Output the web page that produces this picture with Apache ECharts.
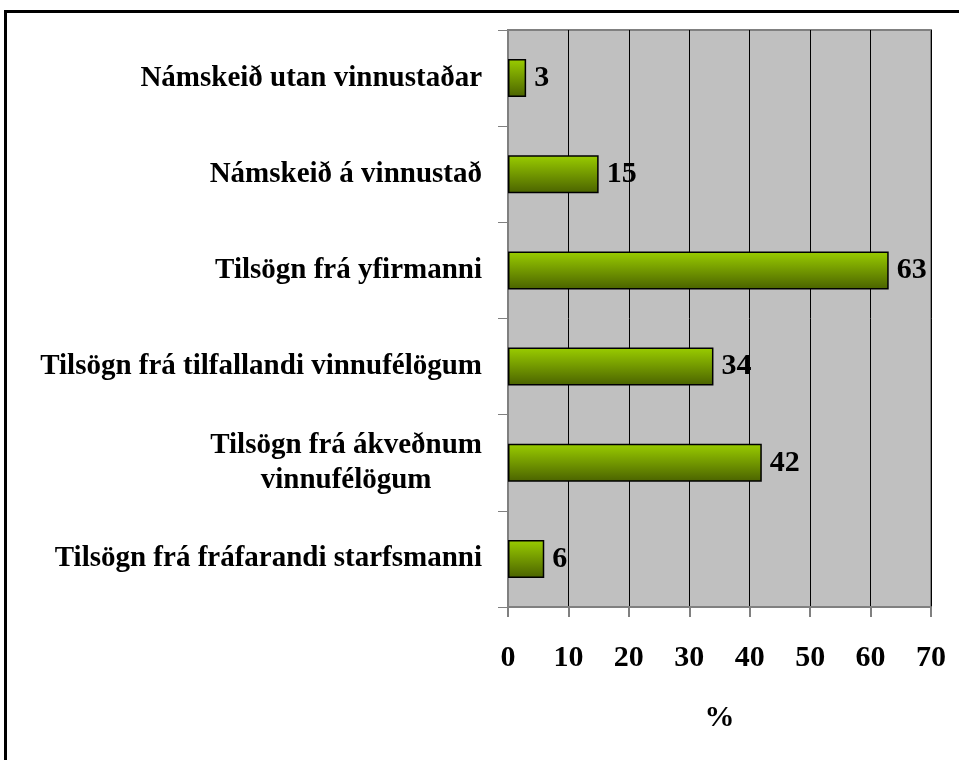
<!DOCTYPE html>
<html>
<head>
<meta charset="utf-8">
<script src="https://cdn.jsdelivr.net/npm/echarts@6/dist/echarts.min.js"></script>
<style>
  html, body { margin: 0; padding: 0; background: #fff; }
  #container { width: 959px; height: 760px; }
</style>
</head>
<body>
<div id="container"></div>
<script>
var categories = [
  'Námskeið utan vinnustaðar',
  'Námskeið á vinnustað',
  'Tilsögn frá yfirmanni',
  'Tilsögn frá tilfallandi vinnufélögum',
  'Tilsögn frá ákveðnum\nvinnufélögum',
  'Tilsögn frá fráfarandi starfsmanni'
];
var values = [3, 15, 63, 34, 42, 6];
var xTicks = [0, 10, 20, 30, 40, 50, 60, 70];

var font = '"Liberation Serif", "Times New Roman", serif';
var myChart = echarts.init(document.getElementById('container'));

var option = {
  backgroundColor: '#ffffff',
  textStyle: { fontFamily: font },
  graphic: [{
    type: 'rect',
    shape: { x: 5.5, y: 11.5, width: 1000, height: 800 },
    style: { fill: 'none', stroke: '#000', lineWidth: 3 },
    silent: true
  }],
  grid: {
    left: 508,
    right: 28,
    top: 30,
    bottom: 153,
    show: true,
    backgroundColor: '#c0c0c0',
    borderColor: '#808080',
    borderWidth: 2
  },
  xAxis: {
    type: 'value',
    min: xTicks[0],
    max: xTicks[xTicks.length - 1],
    interval: 10,
    name: '%',
    nameLocation: 'middle',
    nameGap: 96,
    nameTextStyle: { fontFamily: font, fontWeight: 'bold', fontSize: 30, color: '#000' },
    axisLine: { show: true, lineStyle: { color: '#808080', width: 2 } },
    axisTick: { show: true, length: 10, lineStyle: { color: '#808080', width: 2 } },
    axisLabel: { margin: 36, fontFamily: font, fontWeight: 'bold', fontSize: 30, color: '#000' },
    splitLine: { show: true, lineStyle: { color: '#000', width: 1 } }
  },
  yAxis: {
    type: 'category',
    data: categories,
    inverse: true,
    axisLine: { show: true, lineStyle: { color: '#808080', width: 2 } },
    axisTick: { show: true, length: 10, lineStyle: { color: '#808080', width: 1 } },
    axisLabel: {
      margin: 26,
      formatter: function (v) {
        return v.split('\n').map(function (s) { return '{c|' + s + '}'; }).join('\n');
      },
      rich: {
        c: { align: 'center', fontFamily: font, fontWeight: 'bold', fontSize: 29, color: '#000', lineHeight: 35 }
      }
    },
    splitLine: { show: false }
  },
  series: [{
    type: 'bar',
    data: values,
    barWidth: 38,
    itemStyle: {
      color: new echarts.graphic.LinearGradient(0, 0, 0, 1, [
        { offset: 0, color: '#9acd00' },
        { offset: 1, color: '#4a6200' }
      ]),
      borderColor: '#000',
      borderWidth: 1.5
    },
    label: {
      show: true,
      position: 'right',
      distance: 8,
      fontFamily: font,
      fontWeight: 'bold',
      fontSize: 30,
      color: '#000'
    },
    silent: true
  }]
};

myChart.setOption(option);
</script>
</body>
</html>
